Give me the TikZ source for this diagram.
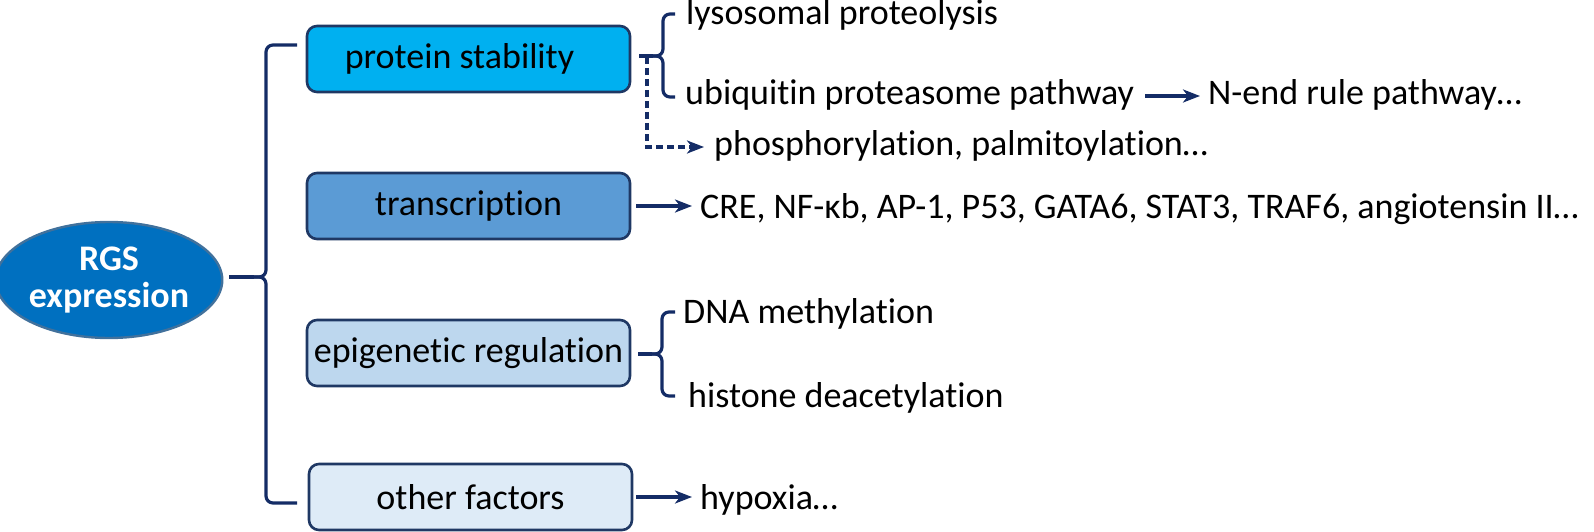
\documentclass[tikz,border=0pt]{standalone}
\usepackage{fontspec}
\setmainfont{Carlito}[Ligatures={NoCommon}]
\usetikzlibrary{arrows.meta,calc,shapes.geometric}
\definecolor{navy}{HTML}{142C66}
\definecolor{boxline}{HTML}{1F3864}
\definecolor{cA}{HTML}{00B0F0}
\definecolor{cB}{HTML}{5B9BD5}
\definecolor{cC}{HTML}{BDD7EE}
\definecolor{cD}{HTML}{DEEBF7}
\definecolor{ellfill}{HTML}{0070C0}
\definecolor{ellline}{HTML}{41719C}
\newcommand\bigfont{\fontsize{36}{44}\selectfont}
\newcommand\mybrace[6]{%
  \draw[conn, rounded corners=7pt] (#1,#4) -- (#2,#4) -- (#2,#5) -- (#3,#5);
  \draw[conn, rounded corners=7pt] (#1,#6) -- (#2,#6) -- (#2,#5) -- (#3,#5);}
\tikzset{
  conn/.style={draw=navy, line width=3.2pt},
  arr/.style={conn, -{Stealth[length=17pt,width=13pt,inset=5pt]}},
  dasharr/.style={arr, dash pattern=on 7pt off 4pt},
  catbox/.style={draw=boxline, line width=2.6pt, rounded corners=10pt, minimum width=323pt,
    minimum height=66pt, inner sep=0pt, font=\bigfont, text=black},
  item/.style={anchor=base west, inner sep=0pt, font=\bigfont, text=black},
  rgs/.style={ellipse, draw=ellline, line width=2.4pt, fill=ellfill, minimum width=214pt,
    minimum height=116pt, inner sep=0pt, font=\bigfont\bfseries, text=white, align=center}
}
\begin{document}
\begin{tikzpicture}[x=1pt,y=-1pt]
\useasboundingbox (0,0) rectangle (1594,532);
% main node
\node[rgs] (ell) at (109,280) {RGS\\[-7pt]expression};
% category boxes
\node[catbox, fill=cA] (ps) at (468.5,59) {protein stability\hspace*{18pt}};
\node[catbox, fill=cB] (tr) at (468.5,206) {transcription};
\node[catbox, fill=cC] (ep) at (468.5,353) {epigenetic regulation};
\node[catbox, fill=cD] (of) at (470.5,497) {other factors};
% big brace
\coordinate (btip) at (254,277);
\mybrace{297}{266}{254}{45}{277}{503}
\draw[conn, shorten <=6pt] (ell.east |- btip) -- (btip);
% items
\node[item] (lys) at (686,25) {lysosomal proteolysis};
\node[item] (ubq) at (685,105) {ubiquitin proteasome pathway};
\node[item] (nend) at (1208,105) {N-end rule pathway…};
\node[item] (pho) at (714,155) {phosphorylation, palmitoylation…};
\node[item] (cre) at (700,218) {CRE, NF-κb, AP-1, P53, GATA6, STAT3, TRAF6, angiotensin II…};
\node[item] (dna) at (683,323) {DNA methylation};
\node[item] (his) at (688,407) {histone deacetylation};
\node[item] (hyp) at (700,509) {hypoxia…};
% protein stability brace
\coordinate (pstip) at (653,56);
\mybrace{675}{663}{653}{14}{56}{97}
\draw[conn, shorten <=8pt] (ps.east |- pstip) -- (pstip);
\coordinate (dtop) at (647,57);
\draw[dasharr, shorten >=10pt] (dtop) |- ($(pho.base west)+(0,-8)$);
\draw[arr, shorten >=8pt] ($(nend.base west)+(-63,-9)$) -- ($(nend.base west)+(0,-9)$);
% transcription
\draw[arr, shorten <=5pt, shorten >=8pt] (tr.east) -- (tr.east -| cre.west);
% epigenetic brace
\coordinate (eptip) at (652,354);
\mybrace{675}{662}{652}{312}{354}{396}
\draw[conn, shorten <=7pt] (ep.east |- eptip) -- (eptip);
% other factors
\draw[arr, shorten <=3pt, shorten >=8pt] (of.east) -- (of.east -| hyp.west);
\end{tikzpicture}
\end{document}
